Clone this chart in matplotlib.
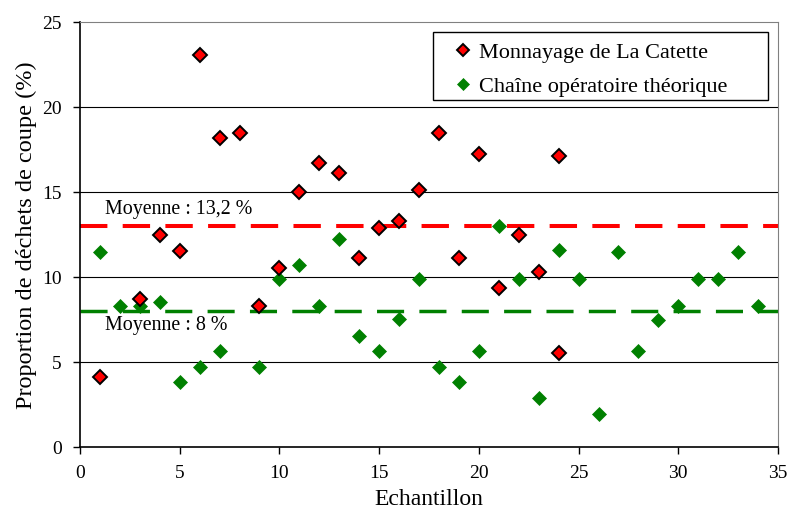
import matplotlib
matplotlib.use('Agg')
import matplotlib.pyplot as plt
from matplotlib.patches import Rectangle

# Monnayage de La Catette
red_x = [1, 3, 4, 5, 6, 7, 8, 9, 10, 11, 12, 13, 14, 15, 16, 17, 18, 19, 20, 21, 22, 23, 24, 24]
red_y = [4.15, 8.72, 12.49, 11.56, 23.08, 18.2, 18.5, 8.33, 10.53, 15.0, 16.72, 16.15,
         11.12, 12.88, 13.33, 15.14, 18.5, 11.12, 17.24, 9.39, 12.49, 10.33, 17.14, 5.56]

# Chaîne opératoire théorique
green_x = [1, 2, 3, 4, 5, 6, 7, 9, 10, 11, 12, 13, 14, 15, 16, 17, 18, 19, 20, 21, 22,
           23, 24, 25, 26, 27, 28, 29, 30, 31, 32, 33, 34]
green_y = [11.47, 8.33, 8.33, 8.56, 3.86, 4.74, 5.66, 4.74, 9.88, 10.72, 8.31, 12.25,
           6.55, 5.66, 7.53, 9.88, 4.74, 3.86, 5.66, 13.04, 9.88, 2.92, 11.6, 9.88,
           1.94, 11.47, 5.66, 7.49, 8.31, 9.88, 9.88, 11.47, 8.31]

mean_red = 13.0
mean_green = 8.0
mean_red_label = "Moyenne : 13,2 %"
mean_green_label = "Moyenne : 8 %"

plt.rcParams['font.family'] = ['Liberation Serif', 'DejaVu Serif']

fig = plt.figure(figsize=(7.87, 5.13), dpi=100)
ax = fig.add_axes([80 / 787, 1 - 447.3 / 513, 698 / 787, 425 / 513])

# horizontal grid
for g in [5, 10, 15, 20]:
    ax.axhline(g, color='black', linewidth=0.8, zorder=1)

# mean lines
ax.axhline(mean_red, color='#ff0000', linewidth=2.9, dashes=(6.8, 3.8), zorder=2)
ax.axhline(mean_green, color='#008000', linewidth=2.5, dashes=(7.8, 4.4), zorder=2)

ax.plot(red_x, red_y, linestyle='none', marker='D', markersize=7.5,
        markerfacecolor='#ff0000', markeredgecolor='black', markeredgewidth=1.4,
        label='Monnayage de La Catette', zorder=4)
ax.plot(green_x, green_y, linestyle='none', marker='D', markersize=7.5,
        markerfacecolor='#008000', markeredgecolor='#008000', markeredgewidth=0.5,
        label='Chaîne opératoire théorique', zorder=3)

ax.text(1.25, 14.0, mean_red_label, fontsize=14.4, va='center', ha='left')
ax.text(1.25, 7.15, mean_green_label, fontsize=14.4, va='center', ha='left')

ax.set_xlim(0, 35)
ax.set_ylim(0, 25)
ax.set_xticks(range(0, 36, 5))
ax.set_yticks(range(0, 26, 5))
ax.tick_params(direction='out', length=5, width=1, labelsize=14, pad=8)
ax.set_xlabel('Echantillon', fontsize=17, labelpad=5)
ax.set_ylabel('Proportion de déchets de coupe (%)', fontsize=17.5, labelpad=4)

ax.spines['left'].set_color('black')
ax.spines['bottom'].set_color('black')
ax.spines['left'].set_linewidth(1.2)
ax.spines['bottom'].set_linewidth(1.2)
ax.spines['top'].set_color('#808080')
ax.spines['right'].set_color('#808080')

# legend frame drawn as a box, legend entries inside it
ax.add_patch(Rectangle((0.5057, 0.8172), 0.48, 0.16, transform=ax.transAxes,
                       facecolor='white', edgecolor='black', linewidth=1.0, zorder=5))
leg = ax.legend(loc='center', bbox_to_anchor=(0.730, 0.888), fontsize=16,
                frameon=False, handletextpad=0.2, handlelength=1.0,
                borderpad=0.0, labelspacing=0.6, markerscale=0.75)
leg.set_zorder(6)

fig.savefig('out.png', dpi=100)
plt.close(fig)
